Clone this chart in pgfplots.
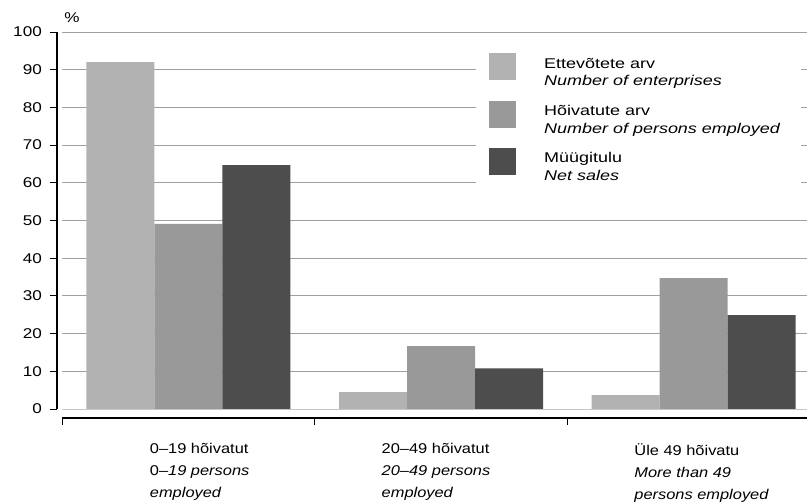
\documentclass[border=0pt]{standalone}
\usepackage{fontspec}
\setmainfont{Liberation Sans}
\usepackage{graphicx}
\usepackage{pgfplots}
\pgfplotsset{compat=1.18}
\definecolor{cLight}{RGB}{178,178,178}
\definecolor{cMed}{RGB}{153,153,153}
\definecolor{cDark}{RGB}{77,77,77}
\definecolor{cGrid}{RGB}{160,160,160}
\newcommand{\lfont}{\fontsize{14.2}{17.7}\selectfont}
\newcommand{\xfont}{\fontsize{14.2}{22.3}\selectfont}
\newcommand{\lent}[2]{\scalebox{1.27}[1]{\parbox[t]{190bp}{\rule{0pt}{11bp}#1\\\textit{#2}\rule[-4bp]{0pt}{4bp}}}}
\begin{document}
\begin{tikzpicture}
\useasboundingbox (0,0) rectangle (807bp,503bp);
\begin{axis}[
  at={(62bp,94bp)}, anchor=south west,
  scale only axis, width=758bp, height=377bp,
  xmin=-0.5, xmax=2.5, ymin=0, ymax=100,
  axis lines=left,
  x axis line style={-, line width=2bp, black},
  y axis line style={-, line width=2bp, black},
  axis x line shift=9bp,
  axis y line shift=5bp,
  ybar=0pt, bar width=68bp,
  ytick={10,20,...,100},
  extra y ticks={0},
  extra y tick style={major grid style={draw=cGrid!60}},
  ymajorgrids,
  major grid style={draw=cGrid, line width=0.9bp},
  tick align=outside,
  ytick style={black, line width=0.8bp},
  major tick length=7bp,
  xtick={-0.5,0.5,1.5,2.5},
  xticklabels={},
  xtick style={black, line width=0.8bp},
  extra x ticks={0,1,2},
  extra x tick labels={
    {\hspace*{18bp}0–19 hõivatut\\\hspace*{18bp}0–\textit{19 persons}\\\hspace*{18bp}\textit{employed}},
    {20–49 hõivatut\\\textit{20–49 persons}\\\textit{employed}},
    {Üle 49 hõivatu\\\textit{More than 49}\\\textit{persons employed}}},
  extra x tick style={major tick length=0pt, xticklabel style={anchor=north west, xshift=-59.5bp, yshift=-25bp, xscale=1.16, align=left, font=\xfont, inner sep=0pt}},
  yticklabel={\scalebox{1.21}[1]{\pgfmathprintnumber{\tick}}},
  yticklabel style={font=\fontsize{14.2}{17}\selectfont, inner sep=0pt, xshift=-8bp},
  /pgf/number format/assume math mode=true,
  ylabel={\scalebox{1.21}[1]{\%}},
  ylabel style={rotate=-90, at={(axis description cs:0.0132,1.0239)}, anchor=base, font=\fontsize{14.2}{17}\selectfont},
  legend style={at={(axis description cs:0.5462,0.965)}, anchor=north west,
    draw=none, fill=white, inner xsep=13bp, inner ysep=8bp,
    font=\lfont, row sep=20.3bp,
    cells={anchor=base west, inner sep=0pt}},
  legend cell align=left,
  legend image code/.code={\fill[#1] (0bp,-16.8bp) rectangle (27bp,10.2bp); \path (53bp,0bp);},
]
\addplot[fill=cLight, draw=none] coordinates {(0,92.0) (1,4.5) (2,3.7)};
\addplot[fill=cMed, draw=none] coordinates {(0,49.1) (1,16.7) (2,34.7)};
\addplot[fill=cDark, draw=none] coordinates {(0,64.7) (1,10.8) (2,24.9)};
\legend{\lent{Ettevõtete arv}{Number of enterprises},\lent{Hõivatute arv}{Number of persons employed},\lent{Müügitulu}{Net sales}}
\end{axis}
\end{tikzpicture}
\end{document}
